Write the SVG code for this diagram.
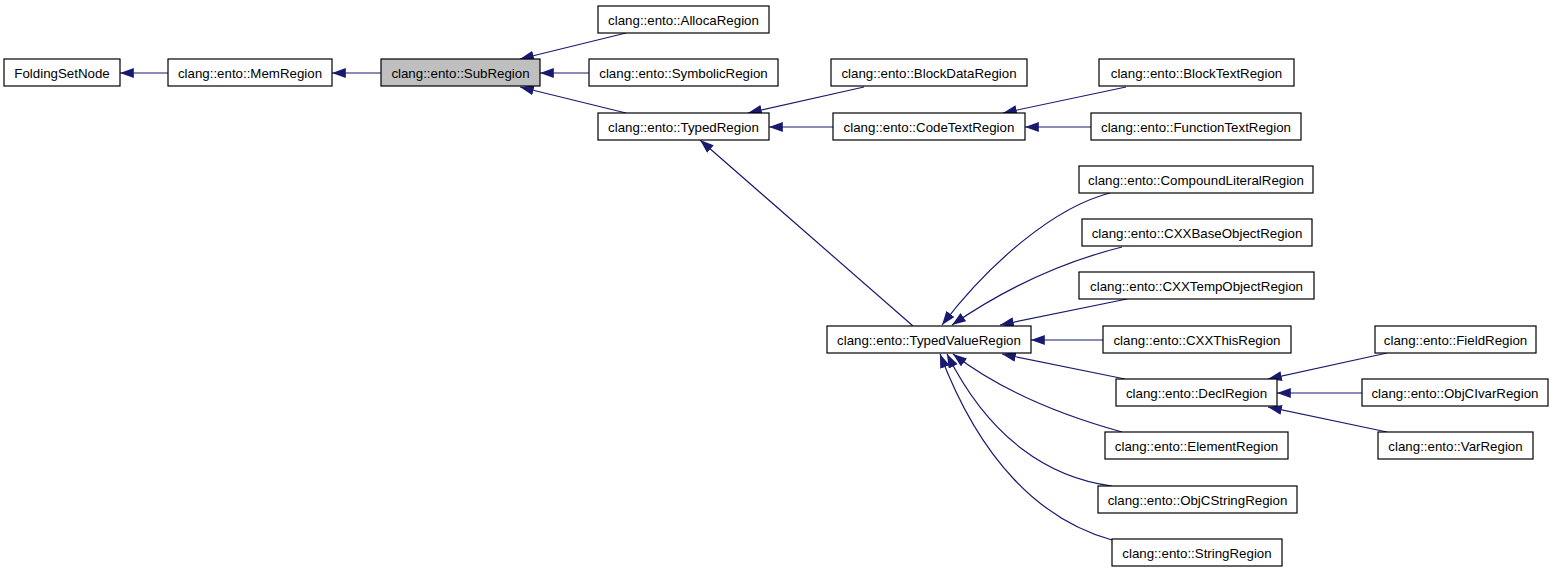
<svg xmlns="http://www.w3.org/2000/svg" width="1555" height="573" viewBox="0 0 1555 573">
<style>
.node rect{fill:#ffffff;stroke:#000000;stroke-width:1.2}
.node.sel rect{fill:#bfbfbf}
.node text{font-family:"Liberation Sans",Arial,sans-serif;font-size:13.3px;text-anchor:middle;fill:#000000}
.edges path{fill:none;stroke:#191970;stroke-width:1.2;marker-end:url(#ah)}
</style>
<defs>
<marker id="ah" markerUnits="userSpaceOnUse" markerWidth="14" markerHeight="10" viewBox="0 0 13 9.4" refX="13" refY="4.7" orient="auto">
<path d="M0,0 L13,4.7 L0,9.4 z" fill="#191970" stroke="none"/>
</marker>
</defs>
<rect width="1555" height="573" fill="#ffffff"/>
<g class="edges" id="edges">
<path d="M168,73 L120,73"/>
<path d="M381,73 L332,73"/>
<path d="M626,33 L520,59"/>
<path d="M589,73 L540,73"/>
<path d="M626,113 L520,87"/>
<path d="M864,87 L748,113"/>
<path d="M833,127 L769,127"/>
<path d="M1126,87 L1003,113"/>
<path d="M1091,127 L1025,127"/>
<path d="M913,326 L700,140"/>
<path d="M1110,193 C1055,207 990,262 942,325"/>
<path d="M1122,247 C1070,260 1010,285 952,325"/>
<path d="M1127,299 L1000,325"/>
<path d="M1103,340 L1031,340"/>
<path d="M1125,379 L1002,354"/>
<path d="M1122,432 C1060,415 1000,390 953,354"/>
<path d="M1112,486 C1050,478 990,440 947,354"/>
<path d="M1112,540 C1040,520 980,460 940,354"/>
<path d="M1387,353 L1268,379"/>
<path d="M1362,393 L1277,393"/>
<path d="M1387,432 L1268,407"/>
</g>
<g class="node" id="n_FoldingSetNode"><rect x="4" y="59" width="116" height="27"/><text x="62" y="77.5">FoldingSetNode</text></g>
<g class="node" id="n_MemRegion"><rect x="168" y="59" width="164" height="27"/><text x="250" y="77.5">clang::ento::MemRegion</text></g>
<g class="node sel" id="n_SubRegion"><rect x="381" y="59" width="159" height="27"/><text x="460.5" y="77.5">clang::ento::SubRegion</text></g>
<g class="node" id="n_AllocaRegion"><rect x="598" y="6" width="171" height="27"/><text x="683.5" y="24.5">clang::ento::AllocaRegion</text></g>
<g class="node" id="n_SymbolicRegion"><rect x="589" y="59" width="189" height="27"/><text x="683.5" y="77.5">clang::ento::SymbolicRegion</text></g>
<g class="node" id="n_TypedRegion"><rect x="598" y="113" width="171" height="27"/><text x="683.5" y="131.5">clang::ento::TypedRegion</text></g>
<g class="node" id="n_BlockDataRegion"><rect x="831" y="59" width="196" height="27"/><text x="929" y="77.5">clang::ento::BlockDataRegion</text></g>
<g class="node" id="n_CodeTextRegion"><rect x="833" y="113" width="192" height="27"/><text x="929" y="131.5">clang::ento::CodeTextRegion</text></g>
<g class="node" id="n_BlockTextRegion"><rect x="1099" y="59" width="195" height="27"/><text x="1196.5" y="77.5">clang::ento::BlockTextRegion</text></g>
<g class="node" id="n_FunctionTextRegion"><rect x="1091" y="113" width="210" height="27"/><text x="1196" y="131.5">clang::ento::FunctionTextRegion</text></g>
<g class="node" id="n_CompoundLiteralRegion"><rect x="1079" y="166" width="234" height="27"/><text x="1196" y="184.5">clang::ento::CompoundLiteralRegion</text></g>
<g class="node" id="n_CXXBaseObjectRegion"><rect x="1082" y="219" width="230" height="27"/><text x="1197" y="237.5">clang::ento::CXXBaseObjectRegion</text></g>
<g class="node" id="n_CXXTempObjectRegion"><rect x="1079" y="272" width="235" height="27"/><text x="1196.5" y="290.5">clang::ento::CXXTempObjectRegion</text></g>
<g class="node" id="n_CXXThisRegion"><rect x="1103" y="326" width="188" height="27"/><text x="1197" y="344.5">clang::ento::CXXThisRegion</text></g>
<g class="node" id="n_TypedValueRegion"><rect x="827" y="326" width="204" height="27"/><text x="929" y="344.5">clang::ento::TypedValueRegion</text></g>
<g class="node" id="n_DeclRegion"><rect x="1116" y="379" width="161" height="27"/><text x="1196.5" y="397.5">clang::ento::DeclRegion</text></g>
<g class="node" id="n_ElementRegion"><rect x="1105" y="432" width="183" height="27"/><text x="1196.5" y="450.5">clang::ento::ElementRegion</text></g>
<g class="node" id="n_ObjCStringRegion"><rect x="1098" y="486" width="199" height="27"/><text x="1197.5" y="504.5">clang::ento::ObjCStringRegion</text></g>
<g class="node" id="n_StringRegion"><rect x="1112" y="539" width="170" height="27"/><text x="1197" y="557.5">clang::ento::StringRegion</text></g>
<g class="node" id="n_FieldRegion"><rect x="1375" y="326" width="161" height="27"/><text x="1455.5" y="344.5">clang::ento::FieldRegion</text></g>
<g class="node" id="n_ObjCIvarRegion"><rect x="1362" y="379" width="186" height="27"/><text x="1455" y="397.5">clang::ento::ObjCIvarRegion</text></g>
<g class="node" id="n_VarRegion"><rect x="1378" y="432" width="155" height="27"/><text x="1455.5" y="450.5">clang::ento::VarRegion</text></g>
</svg>
